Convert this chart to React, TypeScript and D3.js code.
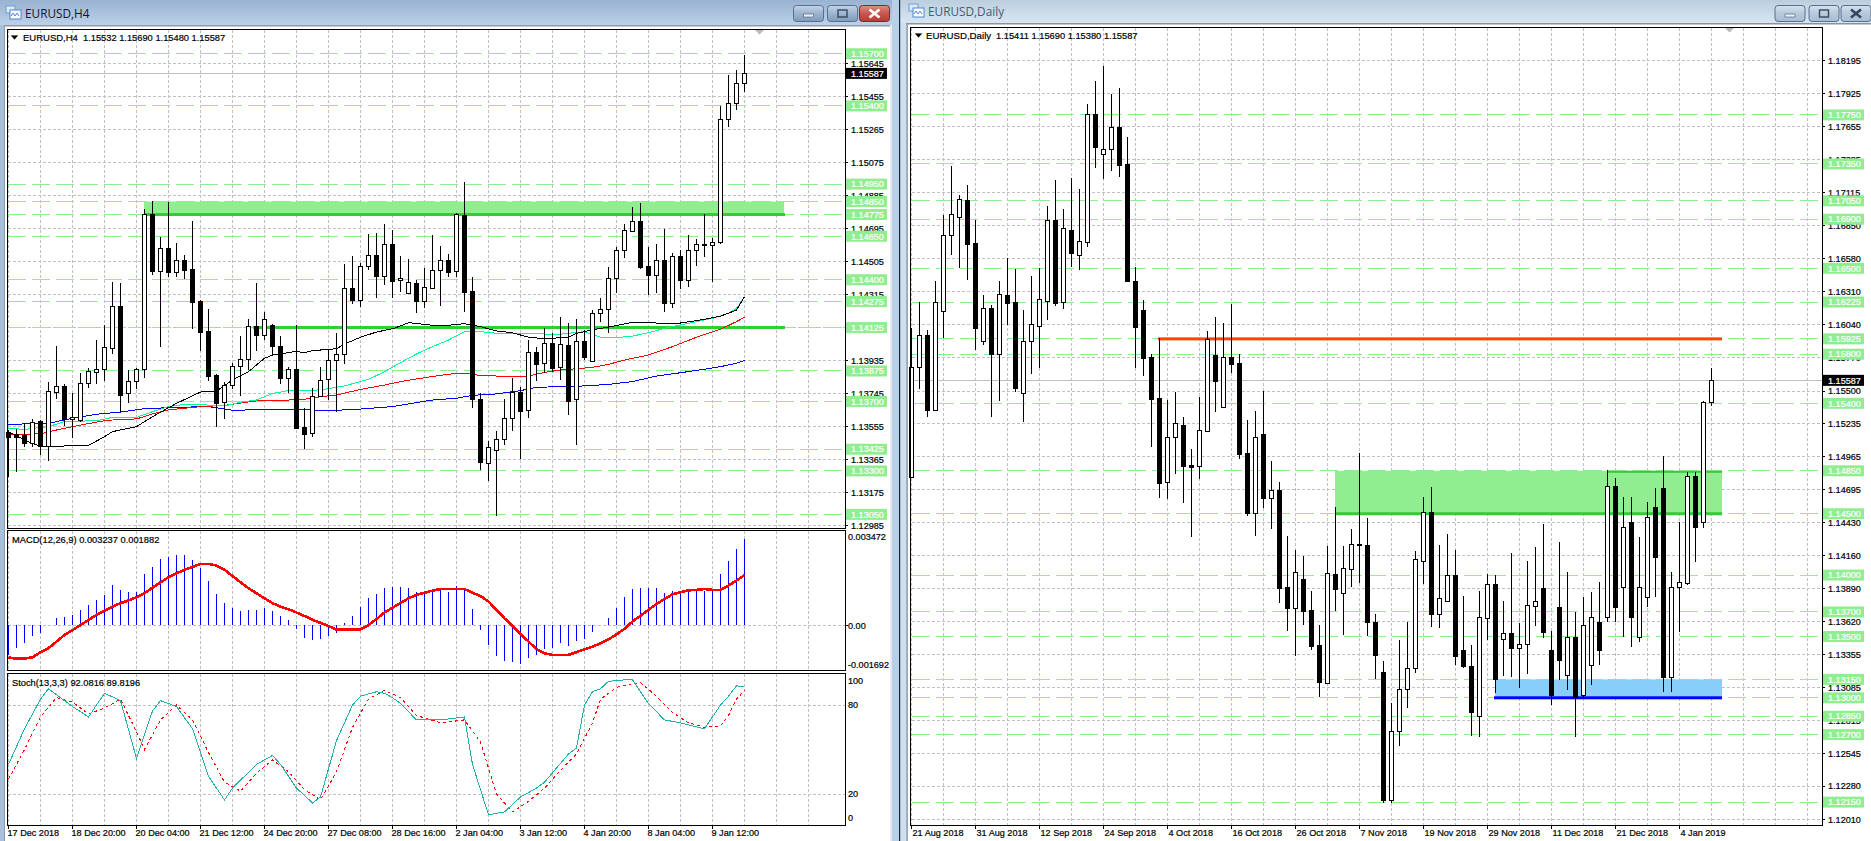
import React from "react";
import * as d3 from "d3";

// ---------- H4 chart values ----------
const h4Open = [1.13524,1.13512,1.13508,1.13462,1.13587,1.13443,1.13753,1.13789,1.13597,1.13593,1.13806,1.13868,1.13885,1.14006,1.14249,1.13747,1.13816,1.13885,1.14778,1.14452,1.14581,1.14445,1.14512,1.14462,1.14278,1.14106,1.13852,1.13698,1.13795,1.13903,1.13943,1.14133,1.14084,1.14140,1.14017,1.13837,1.13885,1.13553,1.13516,1.13730,1.13827,1.13938,1.13972,1.14351,1.14286,1.14480,1.14541,1.14424,1.14604,1.14398,1.14322,1.14380,1.14280,1.14351,1.14455,1.14512,1.14452,1.14773,1.14336,1.13714,1.13344,1.13419,1.13482,1.13603,1.13755,1.13649,1.13985,1.13920,1.14035,1.13897,1.14024,1.13712,1.14046,1.13935,1.14207,1.14230,1.14409,1.14570,1.14683,1.14737,1.14479,1.14429,1.14514,1.14268,1.14537,1.14399,1.14570,1.14606,1.14597,1.14618,1.15323,1.15415,1.15532];
const h4High = [1.13535,1.13541,1.13576,1.13597,1.13593,1.13811,1.14019,1.13801,1.13747,1.13864,1.13891,1.14054,1.14140,1.14388,1.14380,1.13881,1.13891,1.14807,1.14853,1.14646,1.14847,1.14610,1.14543,1.14738,1.14284,1.14232,1.13858,1.13812,1.13920,1.14077,1.14175,1.14380,1.14217,1.14146,1.14077,1.13897,1.14140,1.13660,1.13776,1.13897,1.14000,1.14092,1.14491,1.14537,1.14495,1.14663,1.14667,1.14721,1.14687,1.14537,1.14519,1.14399,1.14465,1.14658,1.14595,1.14549,1.14783,1.14961,1.14414,1.13747,1.13474,1.13530,1.13714,1.13833,1.13785,1.14054,1.14012,1.14121,1.14092,1.14184,1.14153,1.14175,1.14111,1.14226,1.14294,1.14471,1.14587,1.14721,1.14819,1.14840,1.14591,1.14606,1.14693,1.14552,1.14571,1.14658,1.14633,1.14778,1.14641,1.15399,1.15578,1.15606,1.15690];
const h4Low = [1.13265,1.13296,1.13436,1.13439,1.13392,1.13359,1.13714,1.13558,1.13491,1.13583,1.13780,1.13801,1.13820,1.13973,1.13637,1.13689,1.13774,1.13837,1.14428,1.14015,1.14418,1.14418,1.14405,1.14115,1.13992,1.13820,1.13554,1.13600,1.13770,1.13733,1.13881,1.13992,1.14054,1.13966,1.13801,1.13747,1.13547,1.13424,1.13497,1.13728,1.13708,1.13637,1.13916,1.14261,1.14245,1.14456,1.14297,1.14370,1.14297,1.14328,1.14321,1.14207,1.14236,1.14345,1.14251,1.14418,1.14414,1.14217,1.13664,1.13305,1.13244,1.13043,1.13449,1.13531,1.13366,1.13606,1.13820,1.13865,1.13871,1.13824,1.13622,1.13449,1.13939,1.13932,1.14159,1.14096,1.14322,1.14525,1.14673,1.14464,1.14313,1.14322,1.14217,1.14238,1.14345,1.14357,1.14479,1.14528,1.14388,1.14606,1.15279,1.15376,1.15480];
const h4Close = [1.13495,1.13495,1.13462,1.13580,1.13443,1.13759,1.13788,1.13597,1.13612,1.13806,1.13874,1.13885,1.14012,1.14248,1.13739,1.13816,1.13885,1.14777,1.14452,1.14581,1.14445,1.14512,1.14458,1.14274,1.14102,1.13848,1.13692,1.13795,1.13903,1.13943,1.14133,1.14084,1.14176,1.14019,1.13837,1.13885,1.13549,1.13514,1.13730,1.13822,1.13938,1.13972,1.14351,1.14286,1.14480,1.14541,1.14424,1.14604,1.14395,1.14409,1.14386,1.14280,1.14357,1.14455,1.14512,1.14445,1.14777,1.14332,1.13712,1.13350,1.13436,1.13482,1.13603,1.13755,1.13645,1.13983,1.13916,1.14035,1.13894,1.14029,1.13702,1.14046,1.13957,1.14207,1.14230,1.14409,1.14570,1.14685,1.14737,1.14475,1.14429,1.14512,1.14268,1.14537,1.14399,1.14571,1.14604,1.14597,1.14618,1.15323,1.15415,1.15532,1.15587];

const h4Ticks = [1.15645,1.15455,1.15265,1.15075,1.14885,1.14695,1.14505,1.14315,1.14125,1.13935,1.13745,1.13555,1.13365,1.13175,1.12985];
const h4Levels = [1.157,1.154,1.1495,1.1485,1.14775,1.1465,1.144,1.14275,1.14125,1.13875,1.137,1.13425,1.133,1.1305];
const h4TimeLabels = ["17 Dec 2018","18 Dec 20:00","20 Dec 04:00","21 Dec 12:00","24 Dec 20:00","27 Dec 08:00","28 Dec 16:00","2 Jan 04:00","3 Jan 12:00","4 Jan 20:00","8 Jan 04:00","9 Jan 12:00"];
const h4Name = "EURUSD,H4";
const h4Quote = "1.15532 1.15690 1.15480 1.15587";
const bidPrice = 1.15587;

// moving averages: bar numbers where the line was read, and the price there
const maBlackBars = [1,3,5,11,13,14,17,19,22,25,27,29,31,33,34,37,38,39,42,43,45,47,49,50,51,54,56,58,60,62,64,66,68,71,72,74,75,77,79,81,83,85,88,90,91,92,93];
const maBlack = [1.13526,1.13478,1.1344,1.13447,1.13497,1.13526,1.13555,1.13612,1.13689,1.13754,1.1376,1.13823,1.13871,1.13948,1.13967,1.13988,1.1398,1.13992,1.14003,1.1403,1.14069,1.14099,1.14118,1.14134,1.14153,1.14138,1.14138,1.14147,1.1413,1.14105,1.14095,1.14069,1.14061,1.14069,1.14092,1.14111,1.1412,1.14136,1.14155,1.14155,1.14147,1.14151,1.14172,1.14191,1.14207,1.14226,1.14303];
const maGreenBars = [1,3,6,8,12,14,17,19,21,23,26,28,30,32,34,36,40,43,46,48,50,52,54,56,58,60,62,64,66,68,69,71,73,75,77,79,81,83,85,87,89,91,92,93];
const maGreen = [1.13545,1.13539,1.13555,1.13584,1.13589,1.13608,1.13608,1.13641,1.1367,1.13683,1.13679,1.13674,1.13695,1.13708,1.13746,1.13762,1.13766,1.13789,1.13827,1.13871,1.13923,1.13973,1.14015,1.14053,1.14101,1.14101,1.14092,1.14092,1.14092,1.14088,1.14082,1.14092,1.14101,1.14069,1.14067,1.14076,1.14095,1.1412,1.1414,1.14159,1.14178,1.14207,1.14235,1.14303];
const maRedBars = [1,5,6,8,10,13,15,17,19,21,25,28,31,33,36,38,40,42,45,48,50,52,55,57,59,60,62,65,66,68,70,72,74,76,78,81,84,87,90,92,93];
const maRed = [1.13511,1.13513,1.13526,1.13545,1.13564,1.13589,1.13597,1.13599,1.13628,1.13651,1.1367,1.13677,1.13697,1.13708,1.13708,1.13712,1.13727,1.13737,1.13769,1.13794,1.13814,1.13829,1.1385,1.13862,1.13858,1.13848,1.13846,1.13844,1.13846,1.13867,1.13881,1.13888,1.13896,1.13913,1.13938,1.13967,1.14015,1.14069,1.14115,1.14159,1.14184];
const maBlueBars = [1,6,9,12,15,18,22,26,29,35,38,42,45,49,52,54,57,59,62,65,67,70,73,76,79,82,85,88,90,92,93];
const maBlue = [1.13568,1.13574,1.13603,1.13626,1.13639,1.13658,1.13666,1.1367,1.13649,1.13655,1.13651,1.13649,1.13656,1.1367,1.13693,1.13708,1.13718,1.13735,1.13743,1.13762,1.13781,1.13785,1.13789,1.13798,1.13814,1.13846,1.13865,1.13885,1.139,1.13919,1.13936];

// MACD(12,26,9)
const macdHist = [-0.00111,-0.00085,-0.00065,-0.0004,-0.00029,0.00001,0.00028,0.00031,0.00039,0.00058,0.00076,0.00095,0.00114,0.00151,0.00133,0.00123,0.00125,0.00193,0.00219,0.00249,0.00256,0.00264,0.00264,0.00245,0.00215,0.00166,0.00118,0.00084,0.00065,0.00054,0.00058,0.00058,0.00065,0.00054,0.00035,0.0002,-0.00014,-0.00048,-0.00055,-0.00051,-0.0004,-0.00029,0.00009,0.00035,0.00069,0.00103,0.00118,0.0014,0.00144,0.00144,0.0014,0.00125,0.00129,0.00133,0.00136,0.00125,0.00148,0.00136,0.00061,-0.00018,-0.00074,-0.00115,-0.00134,-0.00138,-0.00145,-0.00123,-0.00111,-0.00089,-0.00086,-0.00066,-0.00078,-0.00059,-0.00051,-0.00025,0.00001,0.00028,0.00065,0.00106,0.00136,0.0014,0.0014,0.0014,0.00121,0.00129,0.00125,0.00129,0.00133,0.00129,0.00133,0.00193,0.00241,0.00286,0.003237];
const macdSignal = [-0.00121,-0.00125,-0.00125,-0.0012,-0.00101,-0.00086,-0.00061,-0.00036,-0.00018,0.00001,0.0002,0.00039,0.00055,0.0007,0.00083,0.00093,0.00105,0.0012,0.00141,0.00161,0.0018,0.00195,0.00208,0.00219,0.0023,0.0023,0.00224,0.00208,0.00185,0.00161,0.00139,0.0012,0.00101,0.00083,0.0007,0.0006,0.00048,0.00035,0.0002,0.00009,-0.00003,-0.00016,-0.00016,-0.00016,-0.00016,0.00001,0.00023,0.00048,0.00066,0.00084,0.00101,0.00114,0.00122,0.0013,0.00136,0.00136,0.00136,0.00136,0.00122,0.0011,0.00089,0.00058,0.00026,-0.00003,-0.00033,-0.00061,-0.00089,-0.00105,-0.00111,-0.00111,-0.00111,-0.00101,-0.0009,-0.0008,-0.00068,-0.00053,-0.00034,-0.00013,0.00014,0.00036,0.00058,0.0008,0.00099,0.00116,0.00124,0.00131,0.00133,0.00136,0.00133,0.00133,0.00149,0.00168,0.001882];
const macdHeader = "MACD(12,26,9) 0.003237 0.001882";
const macdLabels = ["0.003472","0.00","-0.001692"];

// Stochastic(13,3,3)
const stochMainBars = [1,3,5,6,7,9,11,13,15,17,19,20,22,24,26,28,29,32,34,35,37,39,40,42,44,45,47,48,49,50,52,55,58,59,61,63,65,67,68,71,72,73,74,75,76,78,79,81,83,85,88,90,91,92,93];
const stochMain = [40,64,84,91,87,79,72,88,83,44,76,83,79,64,32,16,24,40,46,40,24,14,18,56,80,86,89,88,85,81,70,70,72,40,6,8,18,24,28,47,51,80,89,91,96,97,97,81,70,68,64,80,86,93,92.08];
const stochSignalBars = [1,3,5,7,9,11,13,15,17,18,20,22,24,26,28,30,32,34,36,38,40,42,44,46,48,50,52,55,58,60,62,64,66,68,70,72,74,75,77,78,80,82,84,86,88,90,91,92,93];
const stochSignal = [30,50,72,85,82,74,78,84,62,50,70,80,70,48,28,22,34,43,35,23,16,35,65,84,90,85,73,68,70,55,20,8,15,24,36,47,68,84,92,93,95,86,75,68,65,66,73,84,89.82];
const stochHeader = "Stoch(13,3,3) 92.0816 89.8196";
const stochLabels = [100,80,20,0];

// ---------- Daily chart values ----------
const d1Open = [1.14803,1.15693,1.15953,1.15348,1.16149,1.16768,1.1692,1.17056,1.16704,1.15909,1.16173,1.15803,1.16282,1.16225,1.15482,1.15909,1.16032,1.16235,1.16893,1.16227,1.16812,1.16611,1.16716,1.17754,1.17428,1.17469,1.17649,1.1735,1.16396,1.16159,1.15776,1.15441,1.14757,1.15123,1.15223,1.14898,1.14887,1.15177,1.1579,1.15372,1.15775,1.15725,1.14992,1.14509,1.15147,1.14631,1.14693,1.139,1.13734,1.13966,1.13713,1.13428,1.13123,1.14007,1.13852,1.14052,1.14249,1.14243,1.13615,1.13208,1.12167,1.12733,1.13069,1.13241,1.14118,1.14512,1.13685,1.13791,1.14001,1.13387,1.13259,1.12852,1.13653,1.13925,1.13477,1.13526,1.13403,1.13436,1.1375,1.13895,1.13389,1.1374,1.13186,1.13495,1.13023,1.13267,1.13618,1.13658,1.14726,1.13903,1.14432,1.13495,1.13821,1.14555,1.1471,1.1317,1.13903,1.13935,1.14807,1.14432,1.15411];
const d1High = [1.16013,1.16227,1.15997,1.16396,1.16934,1.17336,1.17097,1.17178,1.16893,1.16282,1.162,1.16396,1.16586,1.16493,1.16159,1.16437,1.16499,1.17007,1.17219,1.16983,1.17238,1.17146,1.17836,1.18026,1.18148,1.1792,1.17967,1.17567,1.16507,1.16241,1.15799,1.15929,1.15427,1.1549,1.15286,1.15028,1.15449,1.15989,1.161,1.16051,1.16208,1.15801,1.15264,1.15337,1.155,1.14931,1.14756,1.14319,1.14204,1.14156,1.1387,1.13593,1.14237,1.14553,1.14237,1.14373,1.14992,1.14463,1.13683,1.133,1.12958,1.13471,1.1362,1.14197,1.14634,1.14715,1.14245,1.14335,1.14204,1.1383,1.1343,1.1387,1.14009,1.14001,1.13789,1.1418,1.1361,1.14115,1.14227,1.14414,1.13544,1.1427,1.14025,1.13699,1.13821,1.13862,1.13943,1.14856,1.14791,1.14636,1.14636,1.1431,1.14595,1.1471,1.1497,1.14025,1.14432,1.1484,1.1484,1.1542,1.1569];
const d1Low = [1.14791,1.15518,1.15291,1.15343,1.15934,1.16608,1.16499,1.16404,1.15834,1.15874,1.15291,1.15419,1.16037,1.15494,1.1525,1.15639,1.1569,1.16078,1.16195,1.16168,1.16507,1.16485,1.16676,1.1732,1.17227,1.17293,1.17246,1.16386,1.1569,1.15625,1.15046,1.14631,1.1462,1.14824,1.1459,1.14313,1.14783,1.15169,1.15332,1.15364,1.15648,1.14949,1.14484,1.14321,1.14544,1.14376,1.13775,1.13547,1.13343,1.13593,1.13389,1.13009,1.13118,1.1371,1.13511,1.13905,1.13938,1.13504,1.13156,1.12143,1.12143,1.12607,1.12917,1.13206,1.1393,1.13579,1.13566,1.13783,1.13267,1.13241,1.12689,1.1268,1.13471,1.13036,1.13178,1.13172,1.13083,1.13193,1.13588,1.1349,1.12941,1.13145,1.13063,1.1268,1.12998,1.13104,1.13267,1.13618,1.13618,1.13495,1.13414,1.13455,1.1374,1.13821,1.13047,1.13047,1.13536,1.13919,1.14107,1.14384,1.1538];
const d1Close = [1.15693,1.15953,1.15348,1.16222,1.16768,1.16939,1.17062,1.167,1.16015,1.16173,1.15801,1.16288,1.16219,1.15526,1.15907,1.16043,1.16247,1.16893,1.16219,1.16825,1.16624,1.16722,1.17754,1.1749,1.17469,1.17649,1.17344,1.16396,1.16023,1.15771,1.15435,1.14753,1.15123,1.15237,1.14892,1.14884,1.1518,1.15923,1.15584,1.15775,1.15723,1.14989,1.14509,1.15128,1.14631,1.14691,1.13897,1.13734,1.14023,1.1371,1.13422,1.13131,1.14015,1.1389,1.14055,1.14251,1.14251,1.1362,1.13351,1.12167,1.12733,1.13069,1.13241,1.1413,1.14512,1.13685,1.13811,1.13998,1.13343,1.13259,1.12884,1.13656,1.13925,1.13153,1.13526,1.13409,1.13436,1.13754,1.13786,1.13539,1.13023,1.13308,1.13495,1.13006,1.13593,1.13658,1.13389,1.14726,1.1374,1.14392,1.13658,1.13903,1.14473,1.14147,1.1317,1.13903,1.13943,1.14807,1.14392,1.15411,1.15587];

const d1Ticks = [1.18195,1.17925,1.17655,1.17385,1.17115,1.1685,1.1658,1.1631,1.1604,1.1577,1.155,1.15235,1.14965,1.14695,1.1443,1.1416,1.1389,1.1362,1.13355,1.13085,1.12815,1.12545,1.1228,1.1201];
const d1Levels = [1.1775,1.1735,1.1705,1.169,1.165,1.16225,1.15925,1.158,1.154,1.1485,1.145,1.14,1.137,1.135,1.1315,1.13,1.1285,1.127,1.1215];
const d1TimeLabels = ["21 Aug 2018","31 Aug 2018","12 Sep 2018","24 Sep 2018","4 Oct 2018","16 Oct 2018","26 Oct 2018","7 Nov 2018","19 Nov 2018","29 Nov 2018","11 Dec 2018","21 Dec 2018","4 Jan 2019"];
const d1Name = "EURUSD,Daily";
const d1Quote = "1.15411 1.15690 1.15380 1.15587";

const FONT = "'Liberation Sans', Arial, sans-serif";
const GRID = "#c0c0c0";
const LEVEL = "#90ee90";
const ZONE_LINE = "#32cd32";

const priceH4 = d3.scaleLinear().domain([1.15645, 1.12985]).range([63.3, 525.7]);
const priceD1 = d3.scaleLinear().domain([1.18195, 1.1201]).range([60.3, 819.3]);
const barH4 = d3.scaleLinear().domain([0, 100]).range([0.5, 800.5]);
const barD1 = d3.scaleLinear().domain([0, 100]).range([911.5, 1711.5]);
const macdY = d3.scaleLinear().domain([-0.001692, 0.003472]).range([670.4, 532.7]);
const stochY = d3.scaleLinear().domain([0, 100]).range([823.7, 675.4]);

const fmt = d3.format(".5f");

function Candles({ o, h, l, c, x, y, first }: any) {
  return (
    <g shapeRendering="crispEdges">
      {o.map((_: number, i: number) => {
        const cx = x(i + first);
        const up = c[i] >= o[i];
        const top = Math.round(y(Math.max(o[i], c[i]))) + 0.5;
        const bot = Math.round(y(Math.min(o[i], c[i]))) + 0.5;
        return (
          <g key={i}>
            <line x1={cx} x2={cx} y1={y(h[i])} y2={y(l[i])} stroke="#000" strokeWidth={1} />
            <rect x={cx - 2} y={top} width={4} height={Math.max(bot - top, 1)} fill={up ? "#fff" : "#000"} stroke="#000" strokeWidth={1} />
          </g>
        );
      })}
    </g>
  );
}

function Levels({ values, y, x1, x2 }: any) {
  return (
    <g shapeRendering="crispEdges">
      {values.map((v: number) => (
        <line key={v} x1={x1} x2={x2} y1={y(v)} y2={y(v)} stroke={LEVEL} strokeDasharray="18 6" />
      ))}
    </g>
  );
}

function PriceAxis({ ticks, levels, y, x, bid }: any) {
  return (
    <g fontFamily={FONT} fontSize={9.1} strokeWidth={0.2}>
      {ticks.map((t: number) => (
        <g key={t}>
          <line x1={x} x2={x + 3} y1={y(t)} y2={y(t)} stroke="#000" strokeWidth={1} shapeRendering="crispEdges" />
          <text x={x + 6} y={y(t)} dy="0.36em" fill="#000" stroke="#000">{fmt(t)}</text>
        </g>
      ))}
      {levels.map((v: number) => (
        <g key={v}>
          <rect x={x + 1} y={y(v) - 5.5} width={41} height={11} fill={LEVEL} />
          <text x={x + 6} y={y(v)} dy="0.36em" fill="#fff" stroke="#fff">{fmt(v)}</text>
        </g>
      ))}
      <rect x={x + 1} y={y(bid) - 5.5} width={41} height={11} fill="#000" />
      <text x={x + 6} y={y(bid)} dy="0.36em" fill="#fff" stroke="#fff">{fmt(bid)}</text>
    </g>
  );
}

function WindowButtons({ x, active }: any) {
  const face = active ? "url(#btn)" : "url(#btnIdle)";
  return (
    <g>
      <rect x={x} y={5.5} width={30} height={16} rx={3} fill={face} stroke="#56708f" />
      <rect x={x + 10} y={14} width={10} height={3} fill="#e8eef5" stroke="#4a5a70" strokeWidth={0.6} />
      <rect x={x + 34} y={5.5} width={30} height={16} rx={3} fill={face} stroke="#56708f" />
      <rect x={x + 44.5} y={10} width={9} height={7} fill="none" stroke="#34475e" strokeWidth={1.4} />
      <rect x={x + 66} y={5.5} width={30} height={16} rx={3} fill={active ? "url(#btnClose)" : face} stroke={active ? "#7c2b2b" : "#56708f"} />
      <path d={`M${x + 76},9.5 L${x + 86},17.5 M${x + 86},9.5 L${x + 76},17.5`} stroke={active ? "#fff" : "#34475e"} strokeWidth={2.6} />
    </g>
  );
}

function TitleIcon({ x, y }: any) {
  return (
    <g>
      <rect x={x} y={y} width={9} height={7} fill="#dce9f8" stroke="#6f9bd6" />
      <rect x={x + 4} y={y + 4} width={11} height={9} fill="#fff" stroke="#4f86d0" />
      <path d={`M${x + 5},${y + 10} l2,-3 l2,3 l2,-3 l2,3`} fill="none" stroke="#4f86d0" />
    </g>
  );
}

export default function App() {
  const hFrame = 845;
  const dFrame = 1822;
  const bottom = 825;
  const zoneEnd = 1722;

  const gridX1 = d3.range(1, 105, 4).map((k) => barH4(k)).filter((v) => v < hFrame);
  const gridX2 = d3.range(0, 116, 4).map((k) => barD1(k)).filter((v) => v < dFrame);

  const lineBars = (bars: number[], vals: number[], y: any) =>
    d3.line<number>().x((k) => barH4(k)).y((_, i) => y(vals[i]))(bars) as string;

  return (
    <svg width={1871} height={841} style={{ position: "fixed", left: 0, top: 0, background: "#fff" }}>
      <defs>
        <linearGradient id="titleA" x1="0" x2="0" y1="0" y2="1">
          <stop offset="0" stopColor="#98b2d1" />
          <stop offset="1" stopColor="#bcd1e9" />
        </linearGradient>
        <linearGradient id="titleB" x1="0" x2="0" y1="0" y2="1">
          <stop offset="0" stopColor="#bccede" />
          <stop offset="1" stopColor="#d8e6f3" />
        </linearGradient>
        <linearGradient id="btn" x1="0" x2="0" y1="0" y2="1">
          <stop offset="0" stopColor="#c3d3e6" />
          <stop offset="0.5" stopColor="#9db4cf" />
          <stop offset="1" stopColor="#7f9ab9" />
        </linearGradient>
        <linearGradient id="btnIdle" x1="0" x2="0" y1="0" y2="1">
          <stop offset="0" stopColor="#d5e1ec" />
          <stop offset="0.5" stopColor="#b7c9da" />
          <stop offset="1" stopColor="#a8bdd2" />
        </linearGradient>
        <linearGradient id="btnClose" x1="0" x2="0" y1="0" y2="1">
          <stop offset="0" stopColor="#dc8f86" />
          <stop offset="0.5" stopColor="#c9574f" />
          <stop offset="1" stopColor="#b23c36" />
        </linearGradient>
      </defs>

      {/* window chrome */}
      <rect x={0} y={0} width={892} height={25} fill="url(#titleA)" />
      <rect x={0} y={25} width={5} height={816} fill="#a7c0dc" />
      <rect x={4} y={25} width={1} height={816} fill="#8f9aa6" />
      <rect x={4} y={25} width={887} height={1.5} fill="#8f9aa6" />
      <rect x={890} y={25} width={2} height={816} fill="#e4e9ef" />
      <rect x={892} y={0} width={7} height={841} fill="#b8cfe8" />
      <rect x={899} y={0} width={1.5} height={841} fill="#10283c" />
      <rect x={900.5} y={0} width={1000} height={23} fill="url(#titleB)" />
      <rect x={900.5} y={23} width={7} height={818} fill="#cfdfef" />
      <rect x={906.5} y={23} width={1.2} height={818} fill="#7f8a96" />
      <rect x={906.5} y={23} width={970} height={1.5} fill="#8a939c" />

      <TitleIcon x={6} y={6} />
      <text x={25} y={18} fontFamily="'Open Sans', sans-serif" fontSize={11.8} fill="#141428">EURUSD,H4</text>
      <WindowButtons x={793.5} active />
      <TitleIcon x={909} y={4} />
      <text x={928} y={16} fontFamily="'Open Sans', sans-serif" fontSize={11.8} fill="#4a5a6c">EURUSD,Daily</text>
      <WindowButtons x={1775} />

      {/* ===== H4 window ===== */}
      <g shapeRendering="crispEdges" stroke={GRID} strokeDasharray="3 2">
        {gridX1.map((gx) => (
          <g key={gx}>
            <line x1={gx} x2={gx} y1={30} y2={528} />
            <line x1={gx} x2={gx} y1={531} y2={671} />
            <line x1={gx} x2={gx} y1={674} y2={bottom} />
          </g>
        ))}
        {h4Ticks.map((t) => (
          <line key={t} x1={8} x2={hFrame} y1={priceH4(t)} y2={priceH4(t)} />
        ))}
        <line x1={8} x2={hFrame} y1={macdY(0)} y2={macdY(0)} />
        <line x1={8} x2={hFrame} y1={stochY(80)} y2={stochY(80)} />
        <line x1={8} x2={hFrame} y1={stochY(20)} y2={stochY(20)} />
      </g>
      <Levels values={h4Levels} y={priceH4} x1={7.5} x2={hFrame} />
      <line x1={8} x2={hFrame} y1={priceH4(bidPrice)} y2={priceH4(bidPrice)} stroke={GRID} shapeRendering="crispEdges" />

      {/* H4 zones */}
      <rect x={barH4(18) - 0.5} y={priceH4(1.1485)} width={640} height={13} fill={LEVEL} />
      <rect x={barH4(18) - 0.5} y={priceH4(1.14775) - 1.5} width={641} height={3} fill={ZONE_LINE} />
      <rect x={253} y={priceH4(1.14125) - 1.5} width={532} height={3} fill={ZONE_LINE} />

      <g fill="none" strokeWidth={1} shapeRendering="crispEdges">
        <path d={lineBars(maBlueBars, maBlue, priceH4)} stroke="#0000ff" />
        <path d={lineBars(maRedBars, maRed, priceH4)} stroke="#ff0000" />
        <path d={lineBars(maGreenBars, maGreen, priceH4)} stroke="#00fa9a" />
        <path d={lineBars(maBlackBars, maBlack, priceH4)} stroke="#000" />
      </g>
      <Candles o={h4Open} h={h4High} l={h4Low} c={h4Close} x={barH4} y={priceH4} first={1} />

      {/* MACD */}
      <g stroke="#0000ff" shapeRendering="crispEdges">
        {macdHist.map((v, i) => (
          <line key={i} x1={barH4(i + 1)} x2={barH4(i + 1)} y1={macdY(0)} y2={macdY(v)} />
        ))}
      </g>
      <path
        d={d3.line<number>().x((_, i) => barH4(i + 1)).y((v) => macdY(v))(macdSignal) as string}
        fill="none" stroke="#ff0000" strokeWidth={2.6} shapeRendering="crispEdges"
      />

      {/* Stochastic */}
      <path
        d={lineBars(stochSignalBars, stochSignal, stochY)}
        fill="none" stroke="#ff0000" strokeDasharray="3 3" shapeRendering="crispEdges"
      />
      <path d={lineBars(stochMainBars, stochMain, stochY)} fill="none" stroke="#20b2aa" shapeRendering="crispEdges" />

      {/* H4 frame */}
      <g stroke="#000" shapeRendering="crispEdges" fill="none">
        <rect x={7.5} y={29.5} width={hFrame - 7.5} height={499} />
        <rect x={7.5} y={530.5} width={hFrame - 7.5} height={140} />
        <rect x={7.5} y={673.5} width={hFrame - 7.5} height={bottom - 673.5} />
      </g>

      <g fontFamily={FONT} fontSize={9.3} fill="#000" stroke="#000" strokeWidth={0.2}>
        <path d="M11,35.5 h7 l-3.5,4 z" />
        <text x={23} y={40.5} fontSize={9.5}>{h4Name}</text>
        <text x={83} y={40.5}>{h4Quote}</text>
        <text x={12} y={542.5}>{macdHeader}</text>
        <text x={12} y={685.5}>{stochHeader}</text>
      </g>
      <path d="M755,30 h9 l-4.5,4.5 z" fill="#b8b8b8" />

      <PriceAxis ticks={h4Ticks} levels={h4Levels} y={priceH4} x={hFrame} bid={bidPrice} />
      <g fontFamily={FONT} fontSize={9.1} fill="#000" stroke="#000" strokeWidth={0.2}>
        <text x={848} y={537} dy="0.36em">{macdLabels[0]}</text>
        <text x={848} y={macdY(0)} dy="0.36em">{macdLabels[1]}</text>
        <text x={848} y={664.5} dy="0.36em">{macdLabels[2]}</text>
        <line x1={hFrame} x2={hFrame + 3} y1={macdY(0)} y2={macdY(0)} strokeWidth={1} shapeRendering="crispEdges" />
        {stochLabels.map((v) => (
          <text key={v} x={848} y={v === 100 ? 680.5 : v === 0 ? 817.5 : stochY(v)} dy="0.36em">{v}</text>
        ))}
        {h4TimeLabels.map((t, i) => (
          <g key={t}>
            <line x1={barH4(1 + i * 8)} x2={barH4(1 + i * 8)} y1={bottom + 1} y2={bottom + 4} strokeWidth={1} shapeRendering="crispEdges" />
            <text x={barH4(1 + i * 8) - 1} y={836}>{t}</text>
          </g>
        ))}
      </g>

      {/* ===== Daily window ===== */}
      <g shapeRendering="crispEdges" stroke={GRID} strokeDasharray="3 2">
        {gridX2.map((gx) => (
          <line key={gx} x1={gx} x2={gx} y1={28} y2={bottom} />
        ))}
        {d1Ticks.map((t) => (
          <line key={t} x1={912} x2={dFrame} y1={priceD1(t)} y2={priceD1(t)} />
        ))}
      </g>
      <Levels values={d1Levels} y={priceD1} x1={911.5} x2={dFrame} />
      <line x1={912} x2={dFrame} y1={priceD1(bidPrice)} y2={priceD1(bidPrice)} stroke={GRID} shapeRendering="crispEdges" />

      {/* Daily zones */}
      <rect x={1335} y={priceD1(1.1485)} width={zoneEnd - 1335} height={priceD1(1.145) - priceD1(1.1485)} fill={LEVEL} />
      <rect x={1335} y={priceD1(1.145) - 1.5} width={zoneEnd - 1335} height={3} fill={ZONE_LINE} />
      <rect x={1608} y={priceD1(1.1485)} width={zoneEnd - 1608} height={2} fill={ZONE_LINE} />
      <rect x={1158} y={priceD1(1.15925) - 1.5} width={zoneEnd - 1158} height={3} fill="#ff4500" />
      <rect x={1495} y={priceD1(1.1315)} width={zoneEnd - 1495} height={priceD1(1.13) - priceD1(1.1315)} fill="#87cefa" />
      <rect x={1494} y={priceD1(1.13) - 1.5} width={zoneEnd - 1494} height={3} fill="#0000ff" />

      <Candles o={d1Open} h={d1High} l={d1Low} c={d1Close} x={barD1} y={priceD1} first={0} />

      <g stroke="#000" shapeRendering="crispEdges" fill="none">
        <rect x={910.5} y={27.5} width={dFrame - 910.5} height={bottom - 27.5} />
      </g>

      <g fontFamily={FONT} fontSize={9.3} fill="#000" stroke="#000" strokeWidth={0.2}>
        <path d="M915,33.5 h7 l-3.5,4 z" />
        <text x={926} y={38.8} fontSize={9.7}>{d1Name}</text>
        <text x={996} y={38.8}>{d1Quote}</text>
      </g>
      <path d="M1725,28 h9 l-4.5,4.5 z" fill="#b8b8b8" />

      <PriceAxis ticks={d1Ticks} levels={d1Levels} y={priceD1} x={dFrame} bid={bidPrice} />
      <g fontFamily={FONT} fontSize={9.1} fill="#000" stroke="#000" strokeWidth={0.2}>
        {d1TimeLabels.map((t, i) => (
          <g key={t}>
            <line x1={barD1(i * 8)} x2={barD1(i * 8)} y1={bottom + 1} y2={bottom + 4} strokeWidth={1} shapeRendering="crispEdges" />
            <text x={barD1(i * 8) + 1} y={836}>{t}</text>
          </g>
        ))}
      </g>
    </svg>
  );
}
